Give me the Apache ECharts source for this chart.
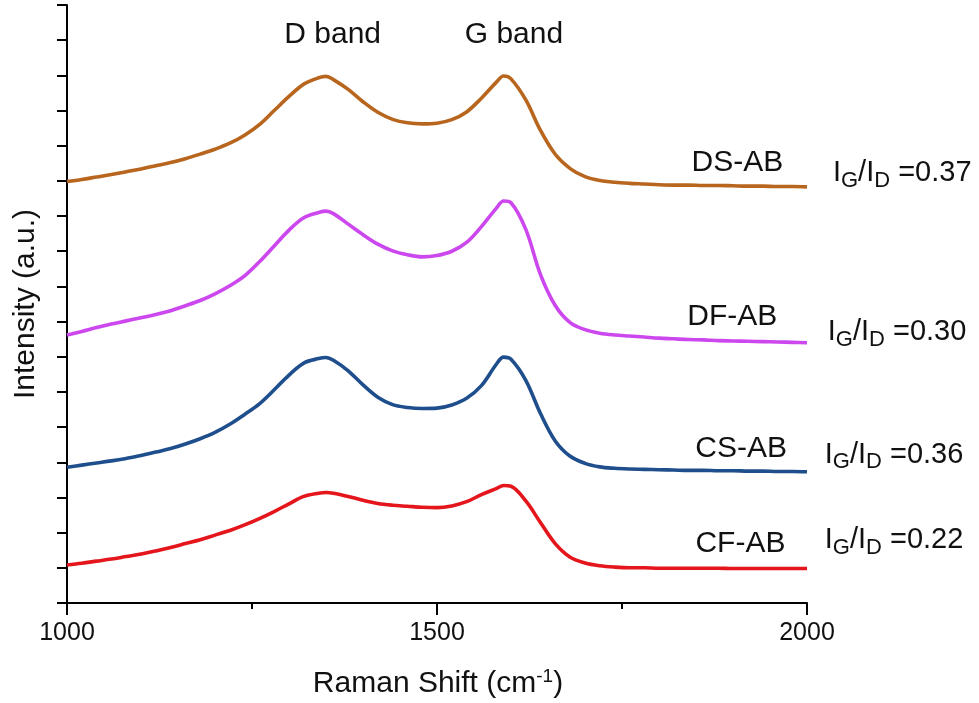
<!DOCTYPE html>
<html>
<head>
<meta charset="utf-8">
<script src="https://cdn.jsdelivr.net/npm/echarts@6/dist/echarts.min.js"></script>
<style>
  html, body { margin: 0; padding: 0; background: #fff; }
  #chart { width: 979px; height: 703px; }
</style>
</head>
<body>
<div id="chart"></div>
<script>
const FONT = 'Liberation Sans, Arial, sans-serif'

// Raman shift (cm-1), every 20 plus the two band maxima
const ramanShift = [
  1000, 1020, 1040, 1060, 1080, 1100, 1120, 1140, 1160, 1180,
  1200, 1220, 1240, 1260, 1280, 1300, 1320, 1340, 1350, 1360, 1380,
  1400, 1420, 1440, 1460, 1480, 1500, 1520, 1540, 1560, 1580, 1590,
  1600, 1620, 1640, 1660, 1680, 1700, 1720, 1740, 1760, 1780,
  1800, 1820, 1840, 1860, 1880, 1900, 1920, 1940, 1960, 1980, 2000
]

// intensities, stacked with offsets (a.u.)
const dsIntensity = [
  11.98, 12.04, 12.11, 12.18, 12.26, 12.34, 12.43, 12.52, 12.63, 12.76,
  12.9, 13.07, 13.3, 13.6, 14.0, 14.4, 14.75, 14.93, 14.97, 14.88, 14.6,
  14.25, 13.95, 13.75, 13.65, 13.62, 13.64, 13.74, 13.96, 14.35, 14.8, 14.98,
  14.9, 14.3, 13.43, 12.75, 12.35, 12.12, 12.01, 11.96, 11.93, 11.91,
  11.89, 11.88, 11.88, 11.87, 11.87, 11.86, 11.85, 11.85, 11.84, 11.84, 11.83
]
const dfIntensity = [
  7.62, 7.72, 7.83, 7.93, 8.02, 8.11, 8.2, 8.31, 8.45, 8.6,
  8.79, 9.02, 9.3, 9.7, 10.15, 10.6, 10.95, 11.1, 11.14, 11.07, 10.77,
  10.47, 10.2, 10.01, 9.9, 9.84, 9.88, 10.0, 10.25, 10.7, 11.22, 11.43,
  11.38, 10.62, 9.33, 8.45, 7.97, 7.77, 7.67, 7.62, 7.59, 7.56,
  7.53, 7.51, 7.49, 7.48, 7.46, 7.45, 7.44, 7.43, 7.42, 7.41, 7.4
]
const csIntensity = [
  3.86, 3.92, 3.98, 4.04, 4.11, 4.19, 4.29, 4.39, 4.52, 4.67,
  4.85, 5.08, 5.36, 5.66, 6.06, 6.48, 6.82, 6.95, 6.98, 6.9, 6.6,
  6.2, 5.85, 5.64, 5.56, 5.53, 5.54, 5.63, 5.82, 6.18, 6.78, 6.99,
  6.93, 6.33, 5.38, 4.6, 4.17, 3.97, 3.87, 3.83, 3.81, 3.8,
  3.79, 3.78, 3.77, 3.77, 3.76, 3.76, 3.75, 3.75, 3.74, 3.74, 3.73
]
const cfIntensity = [
  1.08, 1.13, 1.19, 1.25, 1.32, 1.39, 1.48, 1.58, 1.69, 1.8,
  1.93, 2.06, 2.22, 2.4, 2.6, 2.82, 3.03, 3.12, 3.14, 3.12, 3.03,
  2.92, 2.83, 2.78, 2.75, 2.72, 2.71, 2.76, 2.88, 3.08, 3.25, 3.34,
  3.32, 2.9, 2.28, 1.68, 1.3, 1.14, 1.06, 1.02, 1.0, 1.0,
  0.99, 0.99, 0.99, 0.99, 0.99, 0.98, 0.98, 0.98, 0.98, 0.98, 0.98
]

const sampleNames = ['DS-AB', 'DF-AB', 'CS-AB', 'CF-AB']
const ratios = ['0.37', '0.30', '0.36', '0.22']
const colors = ['#b8651e', '#cc48ee', '#1f4e8d', '#e5151c']

// label anchors in data units [shift, intensity]
const nameAnchors = [[1906, 12.52], [1899, 8.13], [1911, 4.38], [1910, 1.68]]
const ratioAnchors = [[2035, 12.22], [2028, 7.7], [2024, 4.21], [2024, 1.79]]
const bandNames = ['D band', 'G band']
const bandAnchors = [[1359, 16.15], [1604, 16.15]]

const spectra = [dsIntensity, dfIntensity, csIntensity, cfIntensity]

const chart = echarts.init(document.getElementById('chart'))

chart.setOption({
  animation: false,
  backgroundColor: '#fff',
  grid: { left: 67, right: 172, top: 5, bottom: 100 },
  xAxis: {
    type: 'value',
    min: 1000,
    max: 2000,
    interval: 500,
    axisLine: { lineStyle: { color: '#000', width: 2 } },
    axisTick: { length: 12, lineStyle: { color: '#000', width: 2 } },
    minorTick: { show: true, splitNumber: 2, length: 6, lineStyle: { color: '#000', width: 2 } },
    splitLine: { show: false },
    axisLabel: { color: '#111', fontSize: 25, fontFamily: FONT, margin: 18, formatter: v => String(v) }
  },
  yAxis: {
    type: 'value',
    min: 0,
    max: 17,
    interval: 1,
    axisLine: { show: true, lineStyle: { color: '#000', width: 2 } },
    axisTick: { show: true, length: 10, lineStyle: { color: '#000', width: 2 } },
    splitLine: { show: false },
    axisLabel: { show: false }
  },
  series: spectra.map((vals, i) => ({
    name: sampleNames[i],
    type: 'line',
    data: ramanShift.map((x, j) => [x, vals[j]]),
    showSymbol: false,
    smooth: 0.35,
    lineStyle: { color: colors[i], width: 3.6 },
    itemStyle: { color: colors[i] }
  }))
})

const textStyle = { fill: '#111', fontSize: 30, fontFamily: FONT }
const graphics = []

bandNames.forEach((t, i) => {
  const p = chart.convertToPixel({ gridIndex: 0 }, bandAnchors[i])
  graphics.push({ type: 'text', x: p[0], y: p[1], style: Object.assign({ text: t, align: 'center', verticalAlign: 'middle' }, textStyle) })
})

sampleNames.forEach((t, i) => {
  const p = chart.convertToPixel({ gridIndex: 0 }, nameAnchors[i])
  graphics.push({ type: 'text', x: p[0], y: p[1], style: Object.assign({ text: t, align: 'center', verticalAlign: 'middle' }, textStyle) })
  const q = chart.convertToPixel({ gridIndex: 0 }, ratioAnchors[i])
  graphics.push({
    type: 'text', x: q[0], y: q[1],
    style: Object.assign({
      text: 'I{sub|G}/I{sub|D} =' + ratios[i],
      align: 'left',
      verticalAlign: 'middle',
      rich: { sub: { fontSize: 22, fontFamily: FONT, fill: '#111', padding: [15, 0, 0, 0] } }
    }, textStyle, { fontSize: 29 })
  })
})

// axis titles
graphics.push({
  type: 'text', x: 26, y: 304, rotation: Math.PI / 2,
  style: Object.assign({ text: 'Intensity (a.u.)', align: 'center', verticalAlign: 'middle' }, textStyle)
})
graphics.push({
  type: 'text', x: 438, y: 684,
  style: Object.assign({
    text: 'Raman Shift (cm{sup|-1})',
    align: 'center',
    verticalAlign: 'middle',
    rich: { sup: { fontSize: 19, fontFamily: FONT, fill: '#111', padding: [0, 0, 15, 0] } }
  }, textStyle)
})

chart.setOption({ graphic: graphics })
</script>
</body>
</html>
